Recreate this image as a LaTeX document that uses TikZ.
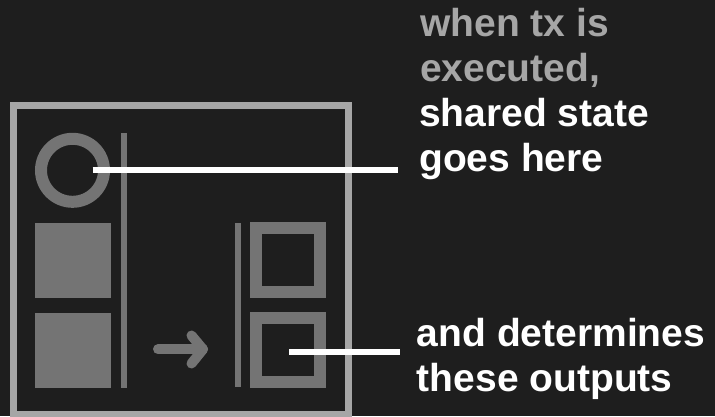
\documentclass[tikz,border=0pt]{standalone}
\usepackage{fontspec}
\setmainfont{Liberation Sans}
\definecolor{bg}{HTML}{1E1E1E}
\definecolor{framegray}{HTML}{A6A6A6}
\definecolor{shapegray}{HTML}{747474}
\definecolor{dimtext}{HTML}{A6A6A6}
\begin{document}
\begin{tikzpicture}[x=1pt,y=-1pt,
  txt/.style={anchor=base west,inner sep=0pt,font=\fontsize{39}{45}\selectfont\bfseries,align=left},
  fillsq/.style={fill=shapegray,draw=none,minimum width=75.7pt,minimum height=75.7pt,inner sep=0pt},
  outsq/.style={draw=shapegray,line width=12pt,minimum width=64pt,minimum height=63.5pt,inner sep=0pt},
  bar/.style={draw=shapegray,line width=6pt},
  pointer/.style={draw=white,line width=6pt}]
\fill[bg] (0,0) rectangle (715,416);
\useasboundingbox (0,0) rectangle (715,416);
% frame
\draw[framegray,line width=6.7pt] (13.3,414) -- (13.3,105.3) -- (348.3,105.3) -- (348.3,414) -- cycle;
% left column
\node[circle,draw=shapegray,line width=12pt,minimum size=63pt,inner sep=0pt] (state) at (72.5,170.3) {};
\node[fillsq] (inA) at (72.8,260.5) {};
\node[fillsq] (inB) at (72.8,350.5) {};
\coordinate (lbarT) at (123.7,133.3);
\coordinate (lbarB) at (123.7,387.7);
\draw[bar] (lbarT) -- (lbarB);
% arrow
\coordinate (arS) at (158,349.3);
\coordinate (arE) at (203,349.3);
\coordinate (arU) at (191.5,335.5);
\coordinate (arD) at (191.5,363.5);
\draw[shapegray,line width=10pt,line cap=round,line join=round] (arS) -- (arE);
\draw[shapegray,line width=10pt,line cap=round,line join=round] (arU) -- (arE) -- (arD);
% right column
\coordinate (rbarT) at (237.8,223.3);
\coordinate (rbarB) at (237.8,387.3);
\draw[bar] (rbarT) -- (rbarB);
\node[outsq] (outA) at (288.2,260) {};
\node[outsq] (outB) at (288.2,350.2) {};
% texts
\node[txt,text=dimtext] (t1) at (420,36.7) {when tx is};
\node[txt,text=dimtext] (t2) at (420,81.7) {executed,};
\node[txt,text=white] (t3) at (419,126.7) {shared state};
\node[txt,text=white] (t4) at (419,171.7) {goes here};
\node[txt,text=white] (t5) at (416.7,346.7) {and determines};
\node[txt,text=white] (t6) at (416.7,391.7) {these outputs};
% pointers
\coordinate (p1s) at (92.7,169.7);
\coordinate (p1e) at (398,169.7);
\draw[pointer] (p1s) -- (p1e);
\coordinate (p2s) at (289.3,351.7);
\coordinate (p2e) at (400,351.7);
\draw[pointer] (p2s) -- (p2e);
\end{tikzpicture}
\end{document}
